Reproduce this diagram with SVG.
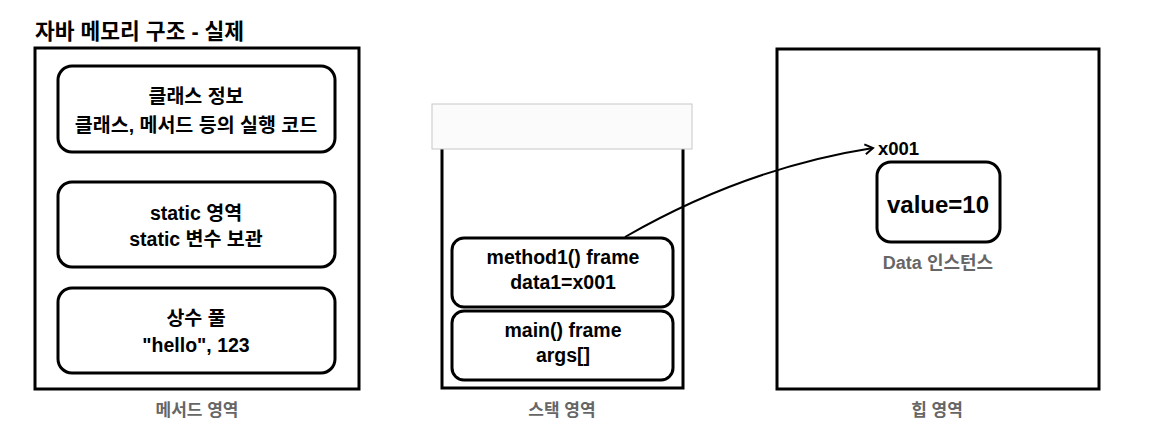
<svg xmlns="http://www.w3.org/2000/svg" width="1171" height="436" viewBox="0 0 1171 436">
<defs>
<style>
text{font-family:"Liberation Sans","Noto Sans CJK KR",sans-serif;text-anchor:middle;dominant-baseline:central;fill:#000;font-weight:bold}
.area{fill:#fff;stroke:#000;stroke-width:3}
.box{fill:#fff;stroke:#000;stroke-width:3}
.t{font-size:19.5px}
.l{font-size:19.5px}
.cap{font-size:17px;fill:#666}
.conn{fill:none;stroke:#000;stroke-width:2}
</style>
<marker id="arr" viewBox="0 0 12 12" refX="10" refY="6" markerWidth="12" markerHeight="12" markerUnits="userSpaceOnUse" orient="auto">
<path d="M2,1 L10,6 L2,11" fill="none" stroke="#000" stroke-width="2"/>
</marker>
</defs>
<rect width="1171" height="436" fill="#fff"/>
<text x="35" y="32" style="font-size:21.5px;text-anchor:start">자바 메모리 구조 - 실제</text>

<g id="method-area">
<rect class="area" x="35" y="48" width="324" height="341"/>
<text class="cap" x="197" y="410">메서드 영역</text>
</g>
<g id="class-info">
<rect class="box" x="58" y="66" width="277" height="86" rx="14"/>
<text class="t" x="196" y="96">클래스 정보</text>
<text class="t" x="196" y="125">클래스, 메서드 등의 실행 코드</text>
</g>
<g id="static-area">
<rect class="box" x="58" y="182" width="277" height="85" rx="14"/>
<text class="t" x="196" y="213">static 영역</text>
<text class="t" x="196" y="239">static 변수 보관</text>
</g>
<g id="constant-pool">
<rect class="box" x="58" y="288" width="277" height="85" rx="14"/>
<text class="t" x="196" y="318">상수 풀</text>
<text class="l" x="196" y="345">"hello", 123</text>
</g>

<g id="stack-area">
<path d="M442,140 L442,388 L683,388 L683,140" fill="#fff" stroke="#000" stroke-width="3"/>
<rect x="432" y="104" width="260" height="45" fill="#fbfbfb" stroke="#c8c8c8" stroke-width="1"/>
<text class="cap" x="562" y="410">스택 영역</text>
</g>
<g id="method1-frame">
<rect class="box" x="452" y="238" width="221" height="69" rx="12"/>
<text class="l" x="563" y="257">method1() frame</text>
<text class="l" x="563" y="282">data1=x001</text>
</g>
<g id="main-frame">
<rect class="box" x="452" y="311" width="221" height="69" rx="12"/>
<text class="l" x="563" y="330">main() frame</text>
<text class="l" x="563" y="355">args[]</text>
</g>

<g id="heap-area">
<rect class="area" x="777" y="49" width="322" height="340"/>
<text class="cap" x="937" y="410">힙 영역</text>
</g>
<g id="data-instance">
<rect class="box" x="877" y="162" width="123" height="80" rx="14"/>
<text x="938" y="204" style="font-size:24px">value=10</text>
<text x="938" y="263" style="font-size:18px;fill:#666">Data 인스턴스</text>
<text x="878" y="148" style="font-size:18.5px;text-anchor:start">x001</text>
</g>

<g id="connectors">
<path class="conn" d="M625,237 Q745,168 873,148" marker-end="url(#arr)"/>
</g>
</svg>
